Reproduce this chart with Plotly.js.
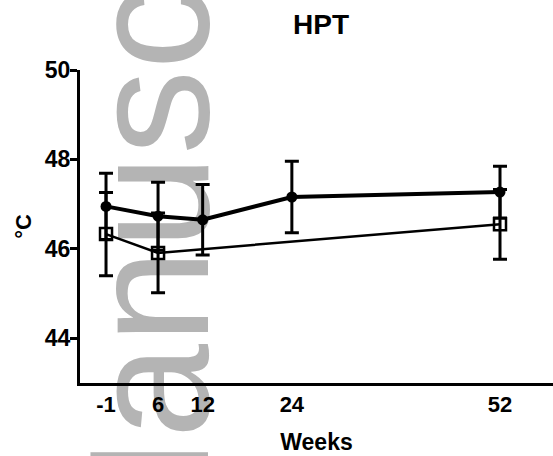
<!DOCTYPE html>
<html>
<head>
<meta charset="utf-8">
<script src="https://cdn.plot.ly/plotly-3.0.1.min.js"></script>
<style>
  html, body { margin: 0; padding: 0; background: #ffffff; overflow: hidden; width: 553px; height: 456px; }
  #wm {
    position: absolute; left: 64px; top: 580px;
    transform-origin: 0 0; transform: rotate(-90deg);
    font-family: "Liberation Sans", Arial, sans-serif; font-size: 170px; line-height: 170px;
    color: #b4b4b4; white-space: nowrap; z-index: 0;
  }
  #chart { position: absolute; left: 0; top: 0; width: 553px; height: 456px; z-index: 1; }
</style>
</head>
<body>
<div id="wm">Manuscript</div>
<div id="chart"></div>
<script>
// Filled-circle series
var weeksA = [-1, 6, 12, 24, 52];
var meanA  = [46.95, 46.73, 46.65, 47.16, 47.27];
var errA   = [0.74, 0.76, 0.79, 0.80, 0.58];

// Open-square series
var weeksB = [-1, 6, 52];
var meanB  = [46.33, 45.91, 46.55];
var errB   = [0.93, 0.89, 0.78];

var xTicks = [-1, 6, 12, 24, 52];
var yTicks = [44, 46, 48, 50];

var FONT = "Liberation Sans, Arial, Helvetica, sans-serif";

var traceA = {
  x: weeksA, y: meanA, type: 'scatter', mode: 'lines+markers', name: 'A',
  line: {color: '#000000', width: 4},
  marker: {symbol: 'circle', size: 11, color: '#000000'},
  error_y: {type: 'data', array: errA, visible: true, color: '#000000', thickness: 3, width: 7}
};
var traceB = {
  x: weeksB, y: meanB, type: 'scatter', mode: 'lines+markers', name: 'B',
  line: {color: '#000000', width: 2.5},
  marker: {symbol: 'square', size: 12, color: 'rgba(0,0,0,0)', line: {color: '#000000', width: 2.5}},
  error_y: {type: 'data', array: errB, visible: true, color: '#000000', thickness: 3, width: 7}
};

var layout = {
  width: 553, height: 456,
  margin: {l: 80, r: 0, t: 70, b: 73},
  paper_bgcolor: 'rgba(0,0,0,0)', plot_bgcolor: 'rgba(0,0,0,0)',
  showlegend: false,
  font: {family: FONT, color: '#000000'},
  title: {text: 'HPT', font: {family: FONT, size: 28, weight: 'bold', color: '#000000'},
          x: 321 / 553, xanchor: 'center', xref: 'container', yref: 'container', y: 1 - 24 / 456, yanchor: 'middle'},
  xaxis: {
    range: [-4.5, 59.13], tickvals: xTicks, ticktext: xTicks.map(String),
    showgrid: false, zeroline: false, showline: true, linewidth: 3, linecolor: '#000000',
    ticks: '', ticklabelstandoff: 0,
    tickfont: {family: FONT, size: 22, weight: 'bold', color: '#000000'},
    title: {text: 'Weeks', standoff: 18, font: {family: FONT, size: 23, weight: 'bold', color: '#000000'}}
  },
  yaxis: {
    range: [43, 50], tickvals: yTicks, ticktext: yTicks.map(String),
    showgrid: false, zeroline: false, showline: true, linewidth: 3, linecolor: '#000000',
    ticks: 'outside', ticklen: 7, tickwidth: 3, tickcolor: '#000000', ticklabelstandoff: -5,
    tickfont: {family: FONT, size: 23, weight: 'bold', color: '#000000'},
    title: {text: '°C', standoff: 8, font: {family: FONT, size: 22, weight: 'bold', color: '#000000'}}
  }
};

Plotly.newPlot('chart', [traceB, traceA], layout, {staticPlot: true, displayModeBar: false});
</script>
</body>
</html>
